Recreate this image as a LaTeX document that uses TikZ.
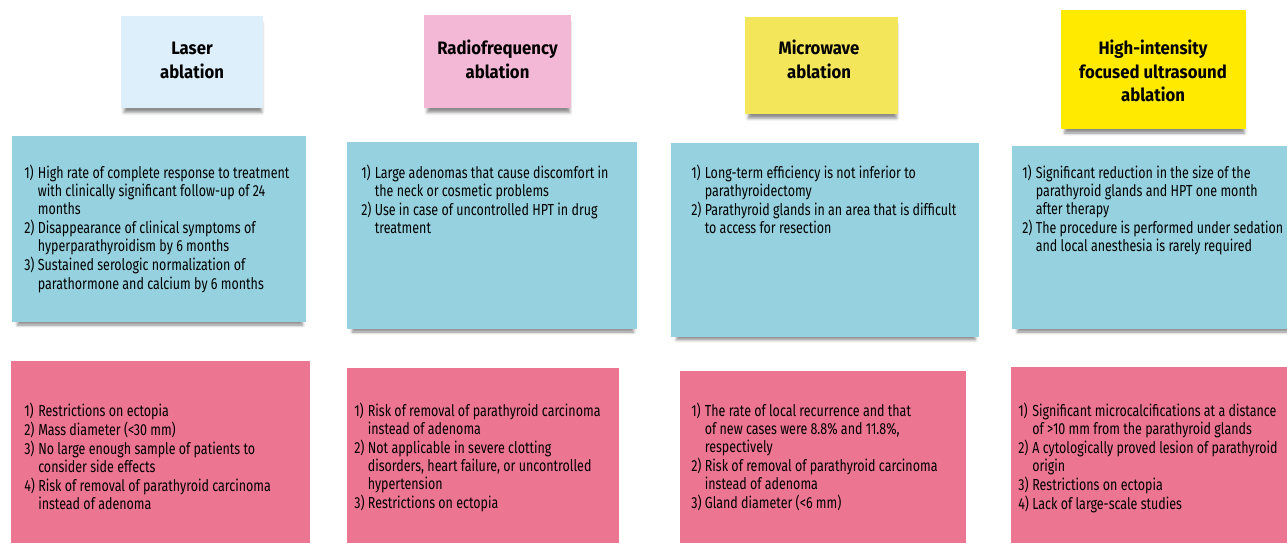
\documentclass[tikz,border=0pt]{standalone}
\usepackage{fontspec}
\setmainfont{Fira Sans}[FakeStretch=0.78]
\newfontfamily\headfont{Fira Sans}[FakeStretch=0.93]
\usetikzlibrary{shadows.blur}
\definecolor{laserc}{HTML}{DDEFFB}
\definecolor{rfc}{HTML}{F4B8D7}
\definecolor{mwc}{HTML}{F3E65B}
\definecolor{hifuc}{HTML}{FFEA00}
\definecolor{prosc}{HTML}{95D1DE}
\definecolor{consc}{HTML}{EC7592}
\newlength\px
\setlength\px{0.75pt}
% numbered list with hanging continuation lines
\newcommand\ptlist[1]{\begin{tabular}[t]{@{}l@{\hspace{2.5pt}}l@{}}#1\end{tabular}}
\newcommand\ctrlines[1]{\begin{tabular}[t]{@{}c@{}}#1\end{tabular}}
\tikzset{
  card/.style={rectangle, draw=none, inner sep=0pt, outer sep=0pt, anchor=north west,
    blur shadow={shadow scale=0.97, shadow xshift=1\px, shadow yshift=-6\px, shadow blur radius=3\px, shadow opacity=45}},
  sz/.style args={#1x#2}{minimum width=#1\px, minimum height=#2\px},
  head/.style={font=\headfont\bfseries\fontsize{13.5}{17.6}\selectfont, anchor=base, inner sep=0pt},
  body/.style={font=\fontsize{12}{13.7}\selectfont, anchor=base west, inner sep=0pt},
}
\begin{document}
\begin{tikzpicture}[x=0.75pt, y=-0.75pt]
\useasboundingbox (0,0) rectangle (1287,542);
\clip (0,0) rectangle (1287,542);

% method headers
\node[card, fill=laserc, sz=142x92]  (hLaser) at (121,16) {};
\node[card, fill=rfc,    sz=147x93]  (hRF)    at (424,15) {};
\node[card, fill=mwc,    sz=153x97]  (hMW)    at (745,17) {};
\node[card, fill=hifuc,  sz=185x119] (hHIFU)  at (1061,10) {};

% advantages
\node[card, fill=prosc, sz=294x186] (pLaser) at (12,136) {};
\node[card, fill=prosc, sz=290x187] (pRF)    at (347,142) {};
\node[card, fill=prosc, sz=308x194] (pMW)    at (671,143) {};
\node[card, fill=prosc, sz=290x183] (pHIFU)  at (1012,146) {};

% limitations
\node[card, fill=consc, sz=299x200] (cLaser) at (11,361) {};
\node[card, fill=consc, sz=272x200] (cRF)    at (347,368) {};
\node[card, fill=consc, sz=286x200] (cMW)    at (680,371) {};
\node[card, fill=consc, sz=290x200] (cHIFU)  at (1011,367) {};

% header texts
\node[head] (tLaser) at (192,55)    {\ctrlines{Laser\\ablation}};
\node[head] (tRF)    at (497.5,55)  {\ctrlines{Radiofrequency\\ablation}};
\node[head] (tMW)    at (819,55)    {\ctrlines{Microwave\\ablation}};
\node[head] (tHIFU)  at (1153,55)   {\ctrlines{High-intensity\\focused ultrasound\\ablation}};

% advantage texts
\node[body] (aLaser) at (24,178) {\ptlist{
  1) & High rate of complete response to treatment\\
     & with clinically significant follow-up of 24\\
     & months\\
  2) & Disappearance of clinical symptoms of\\
     & hyperparathyroidism by 6 months\\
  3) & Sustained serologic normalization of\\
     & parathormone and calcium by 6 months}};
\node[body] (aRF) at (361,178) {\ptlist{
  1) & Large adenomas that cause discomfort in\\
     & the neck or cosmetic problems\\
  2) & Use in case of uncontrolled HPT in drug\\
     & treatment}};
\node[body] (aMW) at (691,178) {\ptlist{
  1) & Long-term efficiency is not inferior to\\
     & parathyroidectomy\\
  2) & Parathyroid glands in an area that is difficult\\
     & to access for resection}};
\node[body] (aHIFU) at (1022,178) {\ptlist{
  1) & Significant reduction in the size of the\\
     & parathyroid glands and HPT one month\\
     & after therapy\\
  2) & The procedure is performed under sedation\\
     & and local anesthesia is rarely required}};

% limitation texts
\node[body] (lLaser) at (24,416) {\ptlist{
  1) & Restrictions on ectopia\\
  2) & Mass diameter (<30 mm)\\
  3) & No large enough sample of patients to\\
     & consider side effects\\
  4) & Risk of removal of parathyroid carcinoma\\
     & instead of adenoma}};
\node[body] (lRF) at (354,416) {\ptlist{
  1) & Risk of removal of parathyroid carcinoma\\
     & instead of adenoma\\
  2) & Not applicable in severe clotting\\
     & disorders, heart failure, or uncontrolled\\
     & hypertension\\
  3) & Restrictions on ectopia}};
\node[body] (lMW) at (691,416) {\ptlist{
  1) & The rate of local recurrence and that\\
     & of new cases were 8.8\% and 11.8\%,\\
     & respectively\\
  2) & Risk of removal of parathyroid carcinoma\\
     & instead of adenoma\\
  3) & Gland diameter (<6 mm)}};
\node[body] (lHIFU) at (1018,416) {\ptlist{
  1) & Significant microcalcifications at a distance\\
     & of >10 mm from the parathyroid glands\\
  2) & A cytologically proved lesion of parathyroid\\
     & origin\\
  3) & Restrictions on ectopia\\
  4) & Lack of large-scale studies}};
\end{tikzpicture}
\end{document}
